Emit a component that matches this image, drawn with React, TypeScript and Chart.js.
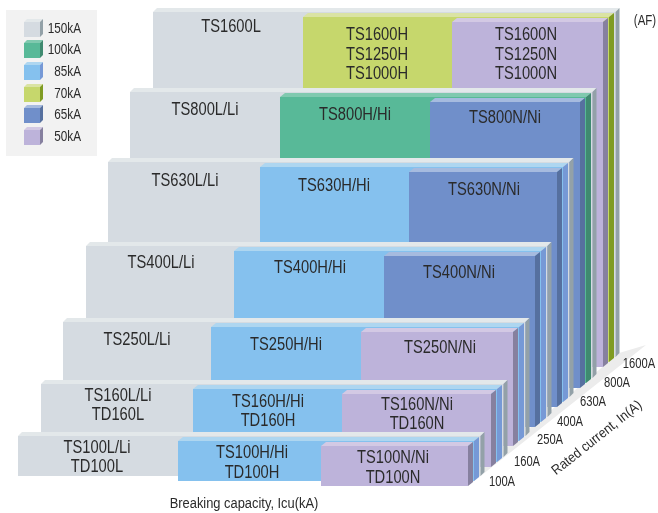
import React, { useEffect, useRef } from "react";
import { Chart, registerables } from "chart.js";

Chart.register(...registerables);

// One row per frame size, from the back row to the front row.
const rowRatings = ["1600A", "800A", "630A", "400A", "250A", "160A", "100A"];
const lLeft = [153, 130, 108, 86, 63, 41, 18];
const hLeft = [303, 280, 260, 234, 211, 193, 178];
const nLeft = [452, 430, 409, 384, 361, 342, 321];
const nRight = [603, 580, 557, 535, 513, 491, 468];
const lTop = [12, 92, 162, 246, 322, 384, 436];
const nBottom = [367, 388, 407, 427, 446, 467, 486];
const hClass = ["70kA", "100kA", "85kA", "85kA", "85kA", "85kA", "85kA"];
const nClass = ["50kA", "65kA", "65kA", "65kA", "50kA", "50kA", "50kA"];

const legendLabels = ["150kA", "100kA", "85kA", "70kA", "65kA", "50kA"];
const legendTops = [22, 43, 65, 87, 108, 130];

const frontColors: Record<string, string> = {
  "150kA": "#d5dbe1", "100kA": "#58b998", "85kA": "#85c1ee",
  "70kA": "#c6d76c", "65kA": "#708fca", "50kA": "#bdb3da",
};
const topColors: Record<string, string> = {
  "150kA": "#e3e8ea", "100kA": "#80c9af", "85kA": "#aed6f0",
  "70kA": "#dae3a4", "65kA": "#a6bbdf", "50kA": "#d3c9e4",
};
const sideColors: Record<string, string> = {
  "150kA": "#93a1a8", "100kA": "#3f8a70", "85kA": "#7699d6",
  "70kA": "#7f9b22", "65kA": "#56709f", "50kA": "#86809f",
};

// [text, x, y]
const rowTexts: [string, number, number][] = [
  ["TS1600L", 231, 26],
  ["TS1600H", 377, 34], ["TS1250H", 377, 54], ["TS1000H", 377, 73],
  ["TS1600N", 526, 34], ["TS1250N", 526, 54], ["TS1000N", 526, 73],
  ["TS800L/Li", 205, 109], ["TS800H/Hi", 355, 114], ["TS800N/Ni", 505, 117],
  ["TS630L/Li", 185, 180], ["TS630H/Hi", 334, 185], ["TS630N/Ni", 484, 189],
  ["TS400L/Li", 161, 262], ["TS400H/Hi", 310, 267], ["TS400N/Ni", 459, 272],
  ["TS250L/Li", 137, 339], ["TS250H/Hi", 286, 344], ["TS250N/Ni", 440, 347],
  ["TS160L/Li", 118, 395], ["TD160L", 118, 414],
  ["TS160H/Hi", 268, 401], ["TD160H", 268, 420],
  ["TS160N/Ni", 417, 404], ["TD160N", 417, 423],
  ["TS100L/Li", 97, 447], ["TD100L", 97, 466],
  ["TS100H/Hi", 252, 452], ["TD100H", 252, 472],
  ["TS100N/Ni", 393, 457], ["TD100N", 393, 477],
];
const ratingX = [639, 617, 593, 570, 550, 527, 502];
const ratingY = [364, 383, 402, 422, 440, 462, 482];

const xAxisTitle = "Breaking capacity, Icu(kA)";
const yAxisTitle = "Rated current, In(A)";
const afLabel = "(AF)";

type Pt = { x: number; y: number };
const FONT = '"Liberation Sans", sans-serif';

function poly(points: Pt[], color: string) {
  return {
    type: "line" as const,
    data: [...points, points[0]],
    backgroundColor: color,
    borderWidth: 0,
    borderColor: color,
    borderDash: [1, 1],
    pointRadius: 0,
    fill: "shape",
    tension: 0,
    parsing: false,
  };
}

function block(left: number, right: number, top: number, bottom: number, dx: number, dy: number, cls: string) {
  return [
    poly([{ x: left, y: top }, { x: right, y: top }, { x: right, y: bottom }, { x: left, y: bottom }], frontColors[cls]),
    poly([{ x: left, y: top }, { x: left + dx, y: top - dy }, { x: right + dx, y: top - dy }, { x: right, y: top }], topColors[cls]),
    poly([{ x: right, y: top }, { x: right + dx, y: top - dy }, { x: right + dx, y: bottom - dy }, { x: right, y: bottom }], sideColors[cls]),
  ];
}

function buildDatasets() {
  const out: any[] = [];
  out.push(poly([{ x: 468, y: 486 }, { x: 646, y: 345 }, { x: 619, y: 353 }, { x: 480, y: 470 }], "#ececec"));
  rowRatings.forEach((_, i) => {
    const R = nRight[i];
    out.push(...block(lLeft[i], R + 12.5, lTop[i], nBottom[i] - 10, 4, 4, "150kA"));
    out.push(...block(hLeft[i], R + 6, lTop[i] + 5, nBottom[i] - 5, 5, 4, hClass[i]));
    out.push(...block(nLeft[i], R, lTop[i] + 10, nBottom[i], 5, 4, nClass[i]));
  });
  out.push(poly([{ x: 6, y: 10 }, { x: 97, y: 10 }, { x: 97, y: 156 }, { x: 6, y: 156 }], "#f2f2f2"));
  legendLabels.forEach((cls, i) => {
    out.push(...block(24, 40, legendTops[i], legendTops[i] + 15, 3, 3, cls));
  });
  return out.reverse(); // Chart.js paints the last dataset first
}

function narrowText(ctx: CanvasRenderingContext2D, t: string, x: number, y: number, sx: number, angle = 0) {
  ctx.save();
  ctx.translate(x, y);
  if (angle) ctx.rotate((angle * Math.PI) / 180);
  ctx.scale(sx, 1);
  ctx.fillText(t, 0, 0);
  ctx.restore();
}

const textPlugin = {
  id: "diagramText",
  afterDatasetsDraw(chart: any) {
    const { ctx, scales } = chart;
    const px = (v: number) => scales.x.getPixelForValue(v);
    const py = (v: number) => scales.y.getPixelForValue(v);
    ctx.save();
    ctx.fillStyle = "#2a2a2a";
    ctx.textBaseline = "middle";
    ctx.textAlign = "center";
    ctx.font = `17.5px ${FONT}`;
    rowTexts.forEach(([t, x, y]) => narrowText(ctx, t, px(x), py(y) + 1, 0.84));
    ctx.font = `14px ${FONT}`;
    rowRatings.forEach((t, i) => narrowText(ctx, t, px(ratingX[i]), py(ratingY[i]) + 0.5, 0.8));
    narrowText(ctx, xAxisTitle, px(244), py(504) + 0.5, 0.92);
    narrowText(ctx, afLabel, px(645), py(21), 0.82);
    narrowText(ctx, yAxisTitle, px(597), py(438), 0.9, -38.5);
    ctx.textAlign = "right";
    legendLabels.forEach((t, i) => narrowText(ctx, t, px(81), py(legendTops[i] + 7), 0.84));
    ctx.restore();
  },
};

export default function App() {
  const ref = useRef<HTMLCanvasElement | null>(null);
  useEffect(() => {
    document.body.style.margin = "0";
    document.body.style.background = "#fff";
    const chart = new Chart(ref.current as HTMLCanvasElement, {
      type: "scatter",
      data: { datasets: buildDatasets() as any },
      options: {
        animation: false,
        responsive: false,
        layout: { padding: 0 },
        plugins: { legend: { display: false }, tooltip: { enabled: false }, title: { display: false } },
        scales: {
          x: { type: "linear", min: 0, max: 658, display: false },
          y: { type: "linear", min: 0, max: 513, reverse: true, display: false },
        },
      },
      plugins: [textPlugin],
    } as any);
    return () => chart.destroy();
  }, []);
  return <canvas ref={ref} width={658} height={513} style={{ display: "block" }} />;
}
